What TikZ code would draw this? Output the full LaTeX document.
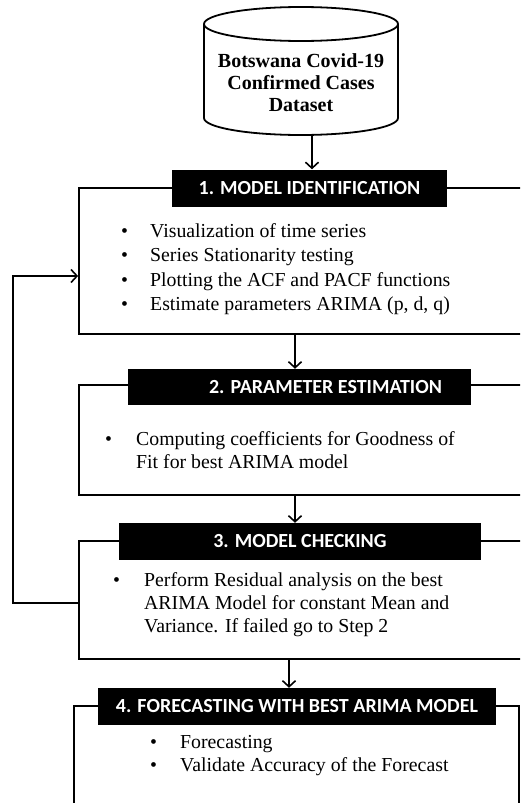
\documentclass[tikz,border=0pt]{standalone}
\usepackage{fontspec}
\setmainfont{Liberation Serif}
\newfontfamily\headfont{Carlito}
\usetikzlibrary{arrows.meta}

\begin{document}
\begin{tikzpicture}[x=1pt,y=-1pt,
  stagebox/.style={draw,line width=1.8pt,inner sep=0pt},
  headbar/.style={fill=black,text=white,inner sep=0pt,minimum height=37pt,
    font=\headfont\bfseries\fontsize{20}{22}\selectfont},
  itemlist/.style={anchor=base west,inner sep=0pt,font=\fontsize{19.8}{23}\selectfont},
  flow/.style={line width=1.6pt,-{Straight Barb[length=6pt,width=13pt]}}]

\clip (0,0) rectangle (520,803);

% dataset drum
\draw[line width=1.8pt] (301,24) ellipse [x radius=97pt,y radius=17pt];
\draw[line width=1.8pt] (204,24) -- (204,118)
  arc[start angle=180,end angle=360,x radius=97pt,y radius=17pt] -- (398,24);
\node[align=center,font=\bfseries\fontsize{20}{22}\selectfont] (data) at (301,83)
  {Botswana Covid-19\\Confirmed Cases\\Dataset};
\coordinate (database) at (312,135);

% stage boxes
\node[stagebox,minimum width=456pt,minimum height=146pt] (box1) at (307,261) {};
\node[stagebox,minimum width=456pt,minimum height=110pt] (box2) at (307,440) {};
\node[stagebox,minimum width=456pt,minimum height=118pt] (box3) at (307,600) {};
\node[stagebox,minimum width=445pt,minimum height=124pt] (box4) at (296.5,768) {};

\node[headbar,minimum width=275pt] (head1) at (309.5,188) {1. MODEL IDENTIFICATION};
\node[headbar,minimum width=343pt,minimum height=36pt] (head2) at (299.5,387) {\hspace*{52pt}2. PARAMETER ESTIMATION};
\node[headbar,minimum width=362pt] (head3) at (300,541.5) {3. MODEL CHECKING};
\node[headbar,minimum width=398pt] (head4) at (297,706.5) {4. FORECASTING WITH BEST ARIMA MODEL};

\node[itemlist,font=\fontsize{19.8}{24.5}\selectfont] (list1) at (121,237) {%
  \begin{tabular}[t]{@{}p{29pt}@{}l@{}}
  \textbullet & Visualization of time series\\
  \textbullet & Series Stationarity testing\\
  \textbullet & Plotting the ACF and PACF functions\\
  \textbullet & Estimate parameters ARIMA (p, d, q)
  \end{tabular}};
\node[itemlist] (list2) at (105,445) {%
  \begin{tabular}[t]{@{}p{31pt}@{}l@{}}
  \textbullet & Computing coefficients for Goodness of\\
  & Fit for best ARIMA model
  \end{tabular}};
\node[itemlist] (list3) at (113,586) {%
  \begin{tabular}[t]{@{}p{31pt}@{}l@{}}
  \textbullet & Perform Residual analysis on the best\\
  & ARIMA Model for constant Mean and\\
  & Variance. If failed go to Step 2
  \end{tabular}};
\node[itemlist] (list4) at (150,748) {%
  \begin{tabular}[t]{@{}p{30pt}@{}l@{}}
  \textbullet & Forecasting\\
  \textbullet & Validate Accuracy of the Forecast
  \end{tabular}};

% connectors
\draw[flow] (database) -- ([xshift=2.5pt]head1.north);
\draw[flow] ([xshift=-12pt]box1.south) -- ([xshift=-4.5pt]head2.north);
\draw[flow] ([xshift=-12pt]box2.south) -- ([xshift=-5pt]head3.north);
\draw[flow] ([xshift=-18pt]box3.south) -- ([xshift=-8pt]head4.north);

% feedback from checking to identification
\draw[flow] ([yshift=-3pt]box3.west) -- ++(-65,0) |- ([yshift=-15pt]box1.west);

\end{tikzpicture}
\end{document}
